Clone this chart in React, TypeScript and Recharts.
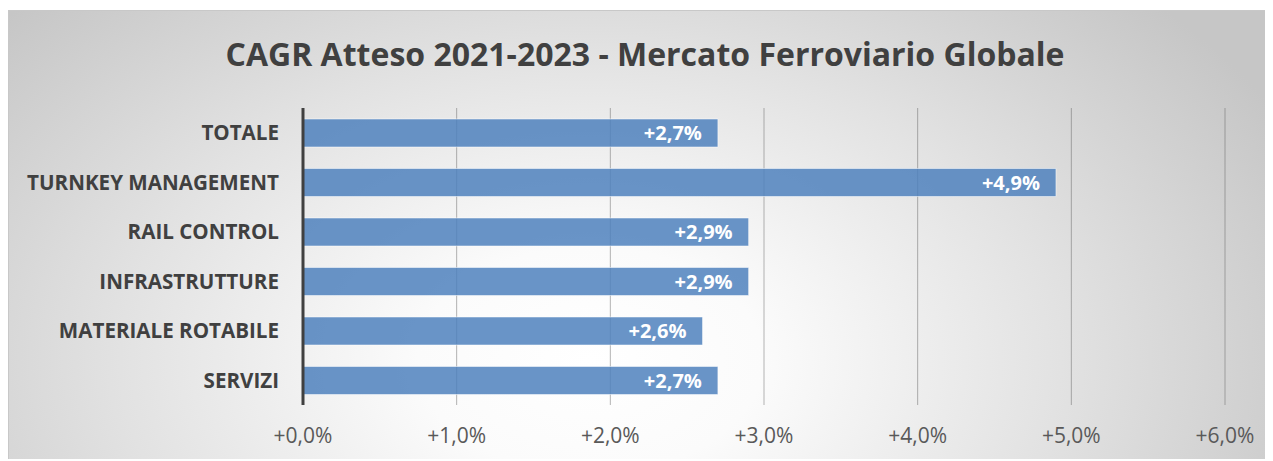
import React from "react";
import {
  BarChart,
  Bar,
  XAxis,
  YAxis,
  CartesianGrid,
  LabelList,
} from "recharts";

const categories = [
  "TOTALE",
  "TURNKEY MANAGEMENT",
  "RAIL CONTROL",
  "INFRASTRUTTURE",
  "MATERIALE ROTABILE",
  "SERVIZI",
];
const cagrValues = [2.7, 4.9, 2.9, 2.9, 2.6, 2.7];
const xTicks = [0, 1, 2, 3, 4, 5, 6];

const TITLE = "CAGR Atteso 2021-2023 - Mercato Ferroviario Globale";
const FONT = "'Open Sans', sans-serif";

const fmtPct = (v: number) => `+${v.toFixed(1).replace(".", ",")}%`;

export default function App() {
  const data = categories.map((name, i) => ({ name, value: cagrValues[i] }));

  return (
    <div
      style={{
        position: "relative",
        width: 1265,
        height: 449,
        marginTop: 2,
        borderTop: "1px solid #c8c8c8",
        borderLeft: "1px solid #c8c8c8",
        boxSizing: "border-box",
        background:
          "radial-gradient(ellipse 62% 115% at 46% 78%, #ffffff 0%, #fbfbfb 22%, #e2e2e2 60%, #c6c6c6 100%)",
        fontFamily: FONT,
      }}
    >
      <div
        style={{
          position: "absolute",
          top: 23,
          left: 4,
          width: "100%",
          textAlign: "center",
          fontSize: 32,
          fontWeight: 700,
          color: "#404040",
          lineHeight: "40px",
        }}
      >
        {TITLE}
      </div>
      <BarChart
        width={1264}
        height={448}
        data={data}
        layout="vertical"
        margin={{ top: 97, right: 48, bottom: 24, left: 0 }}
        style={{ position: "absolute", top: 0, left: 0 }}
      >
        <CartesianGrid
          horizontal={false}
          stroke="#595959"
          strokeOpacity={0.45}
        />
        <XAxis
          type="number"
          domain={[0, 6]}
          ticks={xTicks}
          tickFormatter={fmtPct}
          axisLine={false}
          tickLine={false}
          tickSize={0}
          tickMargin={23}
          tick={{ fill: "#595959", fontSize: 21, fontFamily: FONT }}
        />
        <YAxis
          type="category"
          dataKey="name"
          width={294}
          axisLine={{ stroke: "#404040", strokeWidth: 3 }}
          tickLine={false}
          tickSize={0}
          tickMargin={24}
          tick={{
            fill: "#404040",
            fontSize: 20.6,
            fontWeight: 700,
            fontFamily: FONT,
          }}
        />
        <Bar
          dataKey="value"
          barSize={28}
          fill="#4F81BD"
          fillOpacity={0.85}
          stroke="#ffffff"
          strokeOpacity={0.5}
          strokeWidth={1}
          isAnimationActive={false}
        >
          <LabelList
            dataKey="value"
            position="insideRight"
            offset={16}
            formatter={(v: any) => fmtPct(Number(v))}
            style={{
              fill: "#ffffff",
              fontSize: 20,
              fontWeight: 700,
              fontFamily: FONT,
            }}
          />
        </Bar>
      </BarChart>
    </div>
  );
}
